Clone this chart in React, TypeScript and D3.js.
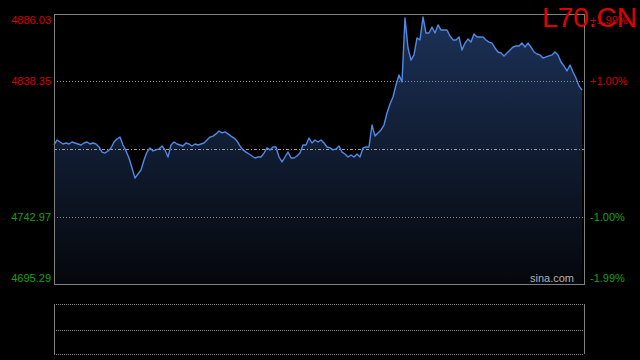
import { useEffect } from 'react';
import * as d3 from 'd3';

const WIDTH = 640;
const HEIGHT = 360;
const PLOT = { left: 54, right: 584, top: 14, bottom: 284 };
const VOL = { top: 304, mid: 330, bottom: 354 };

const SYMBOL = 'L70.CN';
const PREV_CLOSE = 4790.66;
const PRICE_MIN = 4695.29;
const PRICE_MAX = 4886.03;
const PRICE_TICKS = [4886.03, 4838.35, 4742.97, 4695.29];
const PCT_LABELS = ['+1.99%', '+1.00%', '-1.00%', '-1.99%'];
const GRID_LEVELS = [4838.35, 4742.97];

// intraday prices (first part of the session flat, then the rally)
const prices = [
  4793.5, 4797.0, 4795.6, 4794.2, 4794.9, 4794.2, 4795.6, 4794.9, 4794.2, 4793.5,
  4794.9, 4795.6, 4794.2, 4794.9, 4794.2, 4792.1, 4788.5, 4787.8, 4789.3, 4791.4,
  4795.6, 4797.7, 4799.1, 4793.5, 4789.3, 4784.3, 4777.2, 4770.2, 4773.0, 4775.8,
  4782.9, 4788.5, 4791.4, 4789.3, 4790.0, 4790.7, 4792.8, 4790.0, 4785.0, 4793.5,
  4795.6, 4794.2, 4793.5, 4792.8, 4794.9, 4794.2, 4792.8, 4794.2, 4793.5, 4794.2,
  4794.9, 4797.0, 4799.1, 4799.8, 4801.3, 4803.4, 4802.0, 4802.7, 4801.3, 4799.8,
  4798.4, 4796.3, 4792.8, 4790.0, 4788.5, 4787.1, 4785.7, 4784.3, 4785.0, 4785.0,
  4787.8, 4791.4, 4790.0, 4792.1, 4792.1, 4785.0, 4781.5, 4785.0, 4788.5, 4784.3,
  4784.3, 4785.7, 4787.8, 4793.5, 4793.5, 4798.4, 4794.9, 4797.0, 4795.6, 4797.0,
  4794.9, 4792.1, 4791.4, 4790.0, 4790.7, 4792.8, 4788.5, 4787.1, 4785.0, 4786.4,
  4785.0, 4787.1, 4785.0, 4791.4, 4792.1, 4792.1, 4807.6, 4799.8, 4802.0, 4804.1,
  4807.6, 4816.1, 4822.5, 4827.4, 4835.9, 4842.9, 4838.0, 4883.2, 4862.0, 4853.5,
  4857.1, 4869.1, 4867.7, 4883.9, 4872.6, 4872.6, 4876.8, 4872.6, 4878.3, 4874.7,
  4874.7, 4874.7, 4870.5, 4867.7, 4867.7, 4869.8, 4860.6, 4865.5, 4868.4, 4866.2,
  4871.9, 4869.8, 4869.8, 4869.8, 4867.7, 4866.2, 4865.5, 4862.0, 4859.2, 4858.5,
  4856.4, 4858.5, 4860.6, 4862.7, 4863.4, 4863.4, 4865.5, 4862.7, 4865.5, 4862.7,
  4859.2, 4857.8, 4857.1, 4854.9, 4855.7, 4856.4, 4857.1, 4859.2, 4857.1, 4852.1,
  4849.3, 4845.8, 4850.0, 4845.1, 4840.8, 4835.2, 4832.3,
];

const RED = '#d40000';
const GREEN = '#14a014';

export default function App() {
  useEffect(() => {
    document.body.style.margin = '0';
    document.body.style.background = '#000';
  }, []);

  const x = d3.scaleLinear().domain([0, prices.length - 1]).range([PLOT.left, PLOT.right - 2]);
  const y = d3.scaleLinear().domain([PRICE_MIN, PRICE_MAX]).range([PLOT.bottom, PLOT.top]);

  const line = d3.line<number>()
    .x((_, i) => x(i))
    .y((d) => y(d));
  const area = d3.area<number>()
    .x((_, i) => x(i))
    .y0(PLOT.bottom)
    .y1((d) => y(d));

  const labelY = (v: number, i: number) => {
    if (i === 0) return y(v) + 10;
    if (i === PRICE_TICKS.length - 1) return y(v) - 2;
    return y(v) + 4;
  };

  return (
    <svg width={WIDTH} height={HEIGHT} style={{ display: 'block', background: '#000' }}>
      <defs>
        <linearGradient id="fill" gradientUnits="userSpaceOnUse" x1="0" y1={PLOT.top} x2="0" y2={PLOT.bottom}>
          <stop offset="0%" stopColor="#1c3259" />
          <stop offset="100%" stopColor="#05070b" />
        </linearGradient>
      </defs>
      <rect width={WIDTH} height={HEIGHT} fill="#000" />

      {/* price area + line */}
      <path d={area(prices) ?? ''} fill="url(#fill)" />
      {GRID_LEVELS.map((v) => (
        <line key={v} x1={PLOT.left} x2={PLOT.right} y1={Math.round(y(v)) + 0.5} y2={Math.round(y(v)) + 0.5}
          stroke="#8a8a8a" strokeDasharray="1,2" />
      ))}
      <line x1={PLOT.left} x2={PLOT.right} y1={Math.round(y(PREV_CLOSE)) + 0.5} y2={Math.round(y(PREV_CLOSE)) + 0.5}
        stroke="#a0a0a0" strokeDasharray="3,2,1,2" />
      <path d={line(prices) ?? ''} fill="none" stroke="#4f8ae6" strokeWidth={1.4} strokeLinejoin="round" />

      {/* frame */}
      <rect x={PLOT.left + 0.5} y={PLOT.top + 0.5} width={PLOT.right - PLOT.left} height={PLOT.bottom - PLOT.top}
        fill="none" stroke="#808080" />

      {/* axis labels */}
      {PRICE_TICKS.map((v, i) => (
        <text key={v} x={PLOT.left - 3} y={labelY(v, i)} textAnchor="end"
          fontFamily="Liberation Sans, Arial, sans-serif" fontSize={11} fill={v > PREV_CLOSE ? RED : GREEN}>
          {v.toFixed(2)}
        </text>
      ))}
      {PRICE_TICKS.map((v, i) => (
        <text key={'p' + v} x={PLOT.right + 6} y={labelY(v, i)} textAnchor="start"
          fontFamily="Liberation Sans, Arial, sans-serif" fontSize={11} fill={v > PREV_CLOSE ? RED : GREEN}>
          {PCT_LABELS[i]}
        </text>
      ))}

      <text x={PLOT.right - 10} y={PLOT.bottom - 2} textAnchor="end"
        fontFamily="Liberation Sans, Arial, sans-serif" fontSize={11} fill="#b0b0b0">sina.com</text>

      <text x={637} y={27} textAnchor="end" fontFamily="Liberation Sans, Arial, sans-serif" fontSize={28} fill="#e00000">
        {SYMBOL}
      </text>

      {/* volume panel */}
      {[VOL.top, VOL.mid, VOL.bottom].map((v) => (
        <line key={v} x1={PLOT.left} x2={PLOT.right} y1={v + 0.5} y2={v + 0.5} stroke="#808080" strokeDasharray="1,1" />
      ))}
      <line x1={PLOT.left + 0.5} x2={PLOT.left + 0.5} y1={VOL.top} y2={VOL.bottom} stroke="#808080" />
      <line x1={PLOT.right + 0.5} x2={PLOT.right + 0.5} y1={VOL.top} y2={VOL.bottom} stroke="#808080" />
    </svg>
  );
}
